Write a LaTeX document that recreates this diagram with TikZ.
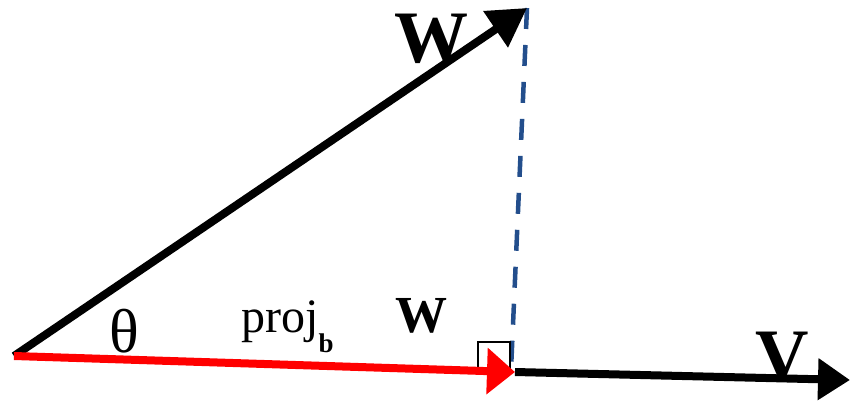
\documentclass[tikz,border=0pt]{standalone}
\usepackage{fontspec}
\setmainfont{Liberation Serif}
\usetikzlibrary{arrows.meta}
\definecolor{dashblue}{RGB}{35,78,140}
\definecolor{projred}{RGB}{255,0,0}
\tikzset{
  vecline/.style={line width=8pt},
  bigfont/.style={font=\fontsize{74}{74}\selectfont\bfseries, inner sep=0pt, anchor=base},
  perp/.style={dashblue, line width=4.5pt, dash pattern=on 21pt off 16pt},
  rightsq/.style={draw=black, line width=2.5pt}
}
\begin{document}
\begin{tikzpicture}[x=1pt,y=-1pt]
\useasboundingbox (0,0) rectangle (850,407);
\coordinate (O) at (14,356);
\coordinate (Wt) at (527,8);
\coordinate (P) at (515,372);
\coordinate (Vt) at (850,380);
\coordinate (Sq) at (511,370);
% perpendicular dashed line
\draw[perp] (Wt) -- (Sq);
% right angle square
\draw[rightsq] (478,342) rectangle (510,371);
% W vector
\draw[vecline, -{Triangle[length=38pt,width=42pt]}] (O) -- (Wt);
% rest of V vector
\draw[vecline, -{Triangle[length=32pt,width=40pt]}] (P) -- (Vt);
% projection
\draw[vecline, projred, -{Triangle[length=28pt,width=45pt]}] (O) -- (P);
% labels
\node[bigfont] (wlab) at (431,62) {W};
\node[bigfont] (vlab) at (782,380) {V};
\node[font=\fontsize{62}{62}\selectfont, inner sep=0pt, anchor=base] (theta) at (124,352) {θ};
\node[inner sep=0pt, anchor=base west] (proj) at (241,332)
  {\fontsize{48}{48}\selectfont proj\raisebox{-20pt}{\fontsize{27}{27}\selectfont\bfseries b}};
\node[font=\fontsize{52}{52}\selectfont\bfseries, inner sep=0pt, anchor=base] (projw) at (421,332) {W};
\end{tikzpicture}
\end{document}
